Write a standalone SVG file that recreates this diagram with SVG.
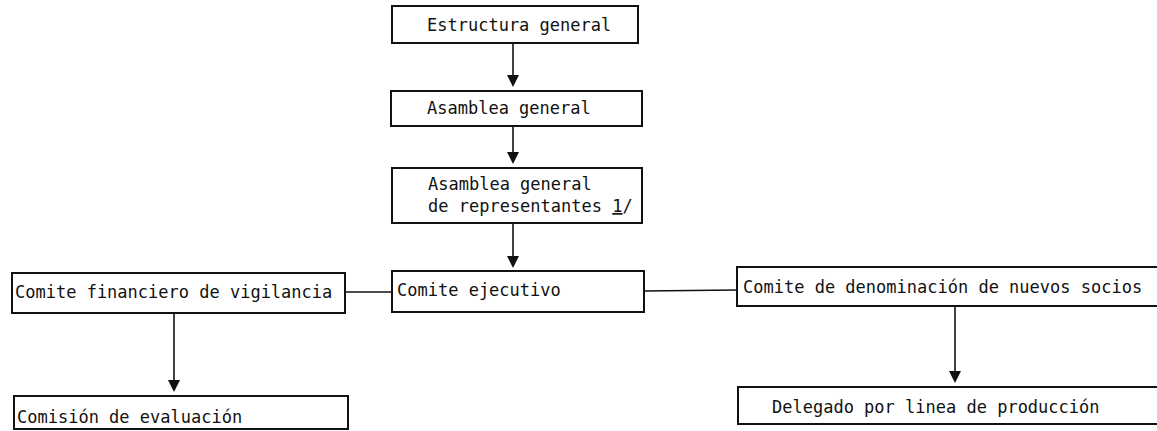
<svg xmlns="http://www.w3.org/2000/svg" width="1157" height="431" viewBox="0 0 1157 431">
<style>
.box{fill:#fff;stroke:#111;stroke-width:2}
.t{font-family:"DejaVu Sans Mono","Liberation Mono",monospace;font-size:17px;fill:#111}
.ln{stroke:#111;stroke-width:1.6;fill:none}
.ah{fill:#111}
</style>
<rect width="1157" height="431" fill="#fff"/>
<g id="connectors">
<line class="ln" x1="513" y1="43" x2="513" y2="80"/>
<line class="ln" x1="513" y1="126" x2="513" y2="158"/>
<line class="ln" x1="513" y1="223" x2="513" y2="262"/>
<line class="ln" x1="345" y1="292" x2="392" y2="292"/>
<line class="ln" x1="644" y1="291" x2="737" y2="290"/>
<line class="ln" x1="174" y1="313" x2="174" y2="386"/>
<line class="ln" x1="955" y1="307" x2="955" y2="377"/>
<path class="ah" d="M507,75 L519,75 L513,87 Z"/>
<path class="ah" d="M507,152 L519,152 L513,164 Z"/>
<path class="ah" d="M507,256 L519,256 L513,268 Z"/>
<path class="ah" d="M168,380 L180,380 L174,392 Z"/>
<path class="ah" d="M949,371 L961,371 L955,383 Z"/>
</g>
<g id="n-estructura">
<rect class="box" x="392" y="6" width="246" height="37"/>
<text class="t" x="427" y="31">Estructura general</text>
</g>
<g id="n-asamblea">
<rect class="box" x="391" y="91" width="251" height="35"/>
<text class="t" x="427" y="114">Asamblea general</text>
</g>
<g id="n-asamblea-rep">
<rect class="box" x="392" y="168" width="250" height="55"/>
<text class="t" x="428" y="190">Asamblea general</text>
<text class="t" x="428" y="212">de representantes <tspan text-decoration="underline">1</tspan>/</text>
</g>
<g id="n-ejecutivo">
<rect class="box" x="392" y="271" width="252" height="41"/>
<text class="t" x="397" y="296">Comite ejecutivo</text>
</g>
<g id="n-financiero">
<rect class="box" x="12" y="273" width="333" height="40"/>
<text class="t" x="15" y="298">Comite financiero de vigilancia</text>
</g>
<g id="n-comision">
<rect class="box" x="14" y="396" width="334" height="33"/>
<text class="t" x="17" y="423">Comisión de evaluación</text>
</g>
<g id="n-denominacion">
<rect class="box" x="737" y="267" width="440" height="39"/>
<text class="t" x="743" y="293">Comite de denominación de nuevos socios</text>
</g>
<g id="n-delegado">
<rect class="box" x="738" y="387" width="440" height="37"/>
<text class="t" x="772" y="413">Delegado por linea de producción</text>
</g>
</svg>
